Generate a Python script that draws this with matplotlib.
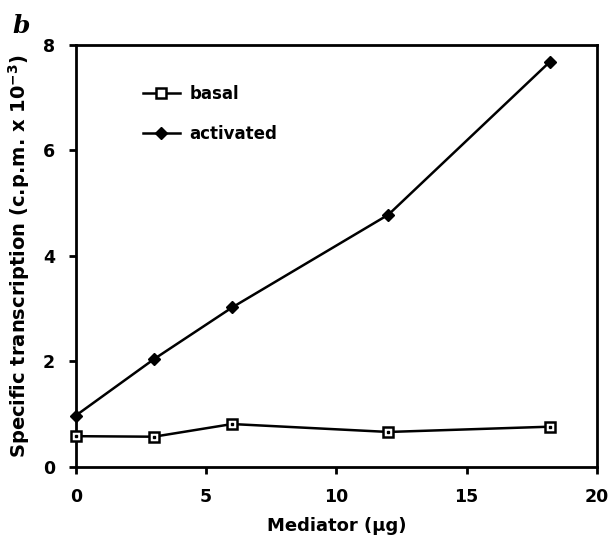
import matplotlib
matplotlib.use("Agg")
import matplotlib.pyplot as plt
from matplotlib.lines import Line2D

# data
mediator_ug = [0, 3, 6, 12, 18.2]
basal = [0.58, 0.57, 0.81, 0.66, 0.76]
activated = [0.97, 2.04, 3.02, 4.78, 7.68]

x_ticks = [0, 5, 10, 15, 20]
y_ticks = [0, 2, 4, 6, 8]

FONT = "DejaVu Sans"
plt.rcParams.update({
    "font.family": FONT,
    "font.weight": "bold",
    "axes.linewidth": 2.0,
    "mathtext.default": "bf",
})

fig = plt.figure(figsize=(6.11, 5.39), dpi=100)
ax = fig.add_axes([0.124, 0.134, 0.853, 0.783])

ax.plot(mediator_ug, basal, color="black", lw=1.8, marker="s", ms=7,
        mfc="white", mec="black", mew=1.8, zorder=3, clip_on=False)
ax.plot(mediator_ug, basal, ls="none", marker="s", ms=1.6,
        mfc="black", mec="black", zorder=4, clip_on=False)
ax.plot(mediator_ug, activated, color="black", lw=1.8, marker="D", ms=6.5,
        mfc="black", mec="black", zorder=3, clip_on=False)

ax.set_xlim(0, 20)
ax.set_ylim(0, 8)
ax.set_xticks(x_ticks)
ax.set_yticks(y_ticks)
ax.tick_params(direction="out", length=5, width=2, labelsize=12.5)
ax.tick_params(axis="x", pad=10)
ax.tick_params(axis="y", pad=10)
for lab in ax.get_xticklabels() + ax.get_yticklabels():
    lab.set_fontweight("bold")

ax.set_xlabel("Mediator (\u00b5g)", fontsize=13, fontweight="bold", labelpad=8)
ax.set_ylabel("Specific transcription (c.p.m. x 10$^{-3}$)", fontsize=14,
              fontweight="bold", labelpad=8)

h_basal = Line2D([], [], color="black", lw=1.8, marker="s", ms=6.5,
                 mfc="white", mec="black", mew=1.8)
h_act = Line2D([], [], color="black", lw=1.8, marker="D", ms=6,
               mfc="black", mec="black")
leg = ax.legend([h_basal, h_act], ["basal", "activated"], loc="upper left",
                bbox_to_anchor=(0.1, 0.94), frameon=False, fontsize=12,
                handlelength=2.2, handletextpad=0.6, labelspacing=1.3)
for t in leg.get_texts():
    t.set_fontweight("bold")

fig.text(0.02, 0.952, "b", fontsize=18, family="DejaVu Serif",
         style="italic", weight="bold", ha="left", va="center")

fig.savefig("out.png", dpi=100, facecolor="white")
